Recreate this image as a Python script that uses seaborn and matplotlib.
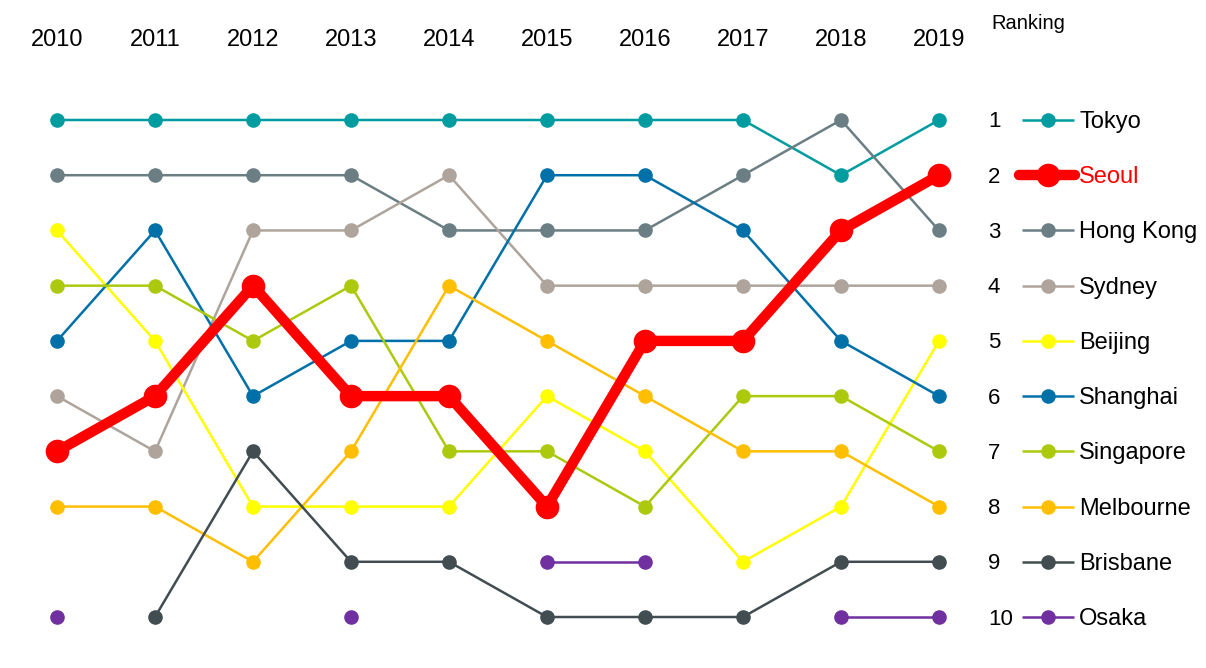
import numpy as np
import pandas as pd
import matplotlib
matplotlib.use("Agg")
import matplotlib.pyplot as plt
import seaborn as sns

years = [2010, 2011, 2012, 2013, 2014, 2015, 2016, 2017, 2018, 2019]
cities = ["Tokyo", "Seoul", "Hong Kong", "Sydney", "Beijing", "Shanghai",
          "Singapore", "Melbourne", "Brisbane", "Osaka"]

tokyo     = [1, 1, 1, 1, 1, 1, 1, 1, 2, 1]
seoul     = [7, 6, 4, 6, 6, 8, 5, 5, 3, 2]
hong_kong = [2, 2, 2, 2, 3, 3, 3, 2, 1, 3]
sydney    = [6, 7, 3, 3, 2, 4, 4, 4, 4, 4]
beijing   = [3, 5, 8, 8, 8, 6, 7, 9, 8, 5]
shanghai  = [5, 3, 6, 5, 5, 2, 2, 3, 5, 6]
singapore = [4, 4, 5, 4, 7, 7, 8, 6, 6, 7]
melbourne = [8, 8, 9, 7, 4, 5, 6, 7, 7, 8]
brisbane  = [None, 10, 7, 9, 9, 10, 10, 10, 9, 9]
osaka     = [10, None, None, 10, None, 9, 9, None, 10, 10]

ranks = [tokyo, seoul, hong_kong, sydney, beijing, shanghai,
         singapore, melbourne, brisbane, osaka]

colors = ["#009C9F", "#FF0000", "#6B7E84", "#AEA49B", "#FFFF00", "#0070A8",
          "#ADC90D", "#FFBE00", "#414D50", "#7030A0"]

sns.set_theme(style="white")
plt.rcParams["font.family"] = ["Liberation Sans", "DejaVu Sans"]

fig = plt.figure(figsize=(12.06, 6.68), dpi=100)
ax = fig.add_axes([8 / 1206, 0.035, 980 / 1206, 0.8267])

for city, vals, col in zip(cities, ranks, colors):
    highlight = city == "Seoul"
    lw = 7.5 if highlight else 1.8
    ms = 17 if highlight else 10.5
    z = 10 if highlight else 3
    # build contiguous segments
    seg, segs = [], []
    for yr, v in zip(years, vals):
        if v is None:
            if seg:
                segs.append(seg)
            seg = []
        else:
            seg.append((yr, v))
    if seg:
        segs.append(seg)
    for s in segs:
        df = pd.DataFrame(s, columns=["year", "rank"])
        sns.lineplot(data=df, x="year", y="rank", ax=ax, color=col,
                     linewidth=lw, marker="o", markersize=ms,
                     markeredgewidth=0, zorder=z, solid_capstyle="round",
                     solid_joinstyle="round", legend=False)

ax.set_xlim(2009.5, 2019.5)
ax.set_ylim(10.5, 0.5)
ax.xaxis.tick_top()
ax.set_xticks(years)
ax.set_xticklabels([str(y) for y in years], fontsize=17, color="black")
ax.tick_params(axis="x", length=0, pad=30)
ax.set_yticks([])
ax.set_xlabel("")
ax.set_ylabel("")
for sp in ax.spines.values():
    sp.set_visible(False)

# ranking column and legend
last_year = years[-1]
px = 98.0   # pixels per year
py = 55.2   # pixels per rank
dy = 2.0 / py
for city, vals, col in zip(cities, ranks, colors):
    r = vals[-1]
    highlight = city == "Seoul"
    ax.text(last_year + (988 - 939) / px, r + dy, str(r), fontsize=16,
            va="center", ha="left", color="black", clip_on=False)
    x0 = last_year + ((1019 if highlight else 1022) - 939) / px
    x1 = last_year + ((1075 if highlight else 1074) - 939) / px
    ax.plot([x0, x1], [r, r], color=col, lw=7.5 if highlight else 1.8,
            solid_capstyle="round" if highlight else "butt",
            clip_on=False, zorder=5)
    ax.plot([last_year + (1048 - 939) / px], [r], marker="o",
            markersize=17 if highlight else 10.5, color=col,
            markeredgewidth=0, clip_on=False, zorder=6)
    ax.text(last_year + (1079 - 939) / px, r + dy, city, fontsize=17,
            va="center", ha="left", color="#FF0000" if highlight else "black",
            clip_on=False)

ax.text(last_year + (991 - 939) / px, 1 + (24 - 120) / py, "Ranking",
        fontsize=14.5, va="center", ha="left", color="black", clip_on=False)

fig.savefig("out.png", dpi=100, facecolor="white")
